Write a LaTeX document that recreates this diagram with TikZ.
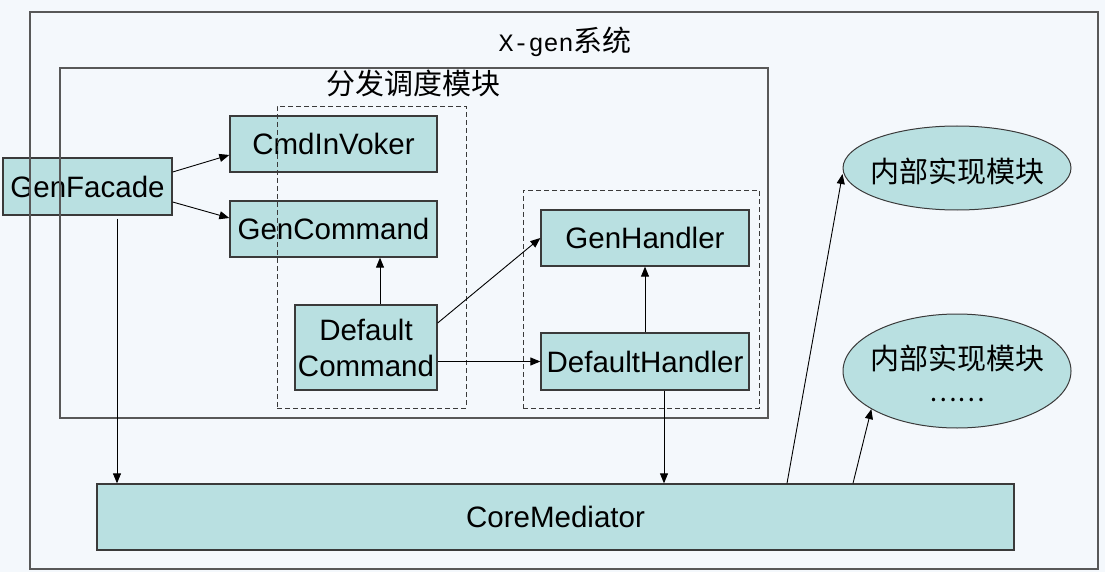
\documentclass[tikz,border=0pt]{standalone}
\usepackage{fontspec}
\setmainfont{Liberation Sans}
\newfontfamily\cjk{Noto Sans CJK SC}
\newfontfamily\monox{Liberation Mono}
\usetikzlibrary{shapes.geometric,arrows.meta}
\definecolor{bgc}{HTML}{F4F8FC}
\definecolor{boxfill}{HTML}{B9E0E1}
\definecolor{edgec}{HTML}{3A3A3A}
\begin{document}
\begin{tikzpicture}[x=1pt,y=-1pt,
  box/.style={draw=edgec,line width=1.3pt,fill=boxfill,inner sep=0pt,
    font=\fontsize{29.5}{36}\selectfont,align=center},
  oval/.style={ellipse,draw=edgec,line width=1pt,fill=boxfill,inner sep=0pt},
  frame/.style={draw=edgec!85,line width=1.2pt,inner sep=0pt},
  dframe/.style={draw=edgec,line width=0.9pt,dash pattern=on 5pt off 3pt,inner sep=0pt},
  arr/.style={draw=black,line width=0.9pt,-{Triangle[length=10pt,width=8pt]}},
  lbl/.style={inner sep=0pt},
  cjklbl/.style={inner sep=0pt,font=\cjk\fontsize{29}{30}\selectfont}
]
\fill[bgc] (0,0) rectangle (1105,572);
\useasboundingbox (0,0) rectangle (1105,572);

% boxes
\node[box,minimum width=169pt,minimum height=57pt] (gf) at (87.5,186.5) {GenFacade};
\node[box,minimum width=207pt,minimum height=56pt] (ci) at (333.5,144) {CmdInVoker};
\node[box,minimum width=207pt,minimum height=56pt] (gc) at (333.5,229) {GenCommand};
\node[box,minimum width=142pt,minimum height=85pt] (dc) at (366,347.5) {Default\\Command};
\node[box,minimum width=208pt,minimum height=56pt] (gh) at (645,238) {GenHandler};
\node[box,minimum width=208pt,minimum height=57pt] (dh) at (645,361.5) {DefaultHandler};
\node[box,minimum width=917pt,minimum height=66pt] (cm) at (555.5,517) {CoreMediator};
\node[oval,minimum width=228pt,minimum height=84pt] (e1) at (957,168) {};
\node[cjklbl] (e1a) at (957,171) {内部实现模块};
\node[oval,minimum width=228pt,minimum height=114pt] (e2) at (957,371) {};
\node[cjklbl] (e2a) at (957,358) {内部实现模块};
\node[lbl,font=\cjk\fontsize{26}{30}\selectfont] (e2b) at (957,400) {……};

% frames
\node[frame,minimum width=1068pt,minimum height=557pt] (xgen) at (564,290.5) {};
\node[frame,minimum width=708pt,minimum height=350pt] (disp) at (414,243) {};
\node[dframe,minimum width=189pt,minimum height=302pt] (d1) at (371.5,257) {};
\node[dframe,minimum width=236pt,minimum height=218pt] (d2) at (641,299) {};

% titles
\node[lbl] (xt) at (565,42) {{\monox\fontsize{25}{30}\selectfont X-gen}{\cjk\fontsize{29}{30}\selectfont 系统}};
\node[cjklbl] (dt) at (413,83) {分发调度模块};

% connectors
\draw[arr] ([yshift=14.5pt]gf.east) -- ([yshift=-11pt]ci.west);
\draw[arr] ([yshift=-15.5pt]gf.east) -- ([yshift=11pt]gc.west);
\draw[arr] ([xshift=14pt]dc.north) -- ([xshift=46.5pt]gc.south);
\draw[arr] ([yshift=24.5pt]dc.east) -- (gh.west);
\draw[arr] (dc.east |- dh.west) -- (dh.west);
\draw[arr] (dh.north) -- (gh.south);
\coordinate (dhs) at ([xshift=19pt]dh.south);
\draw[arr] (dhs) -- (cm.north -| dhs);
\coordinate (gfs) at ([xshift=29.5pt,yshift=-3pt]gf.south);
\draw[arr] (gfs) -- (cm.north -| gfs);
\draw[arr] ([xshift=231.5pt]cm.north) -- ([yshift=-6pt]e1.west);
\draw[arr] ([xshift=297.5pt]cm.north) -- (e2.204);
\end{tikzpicture}
\end{document}
